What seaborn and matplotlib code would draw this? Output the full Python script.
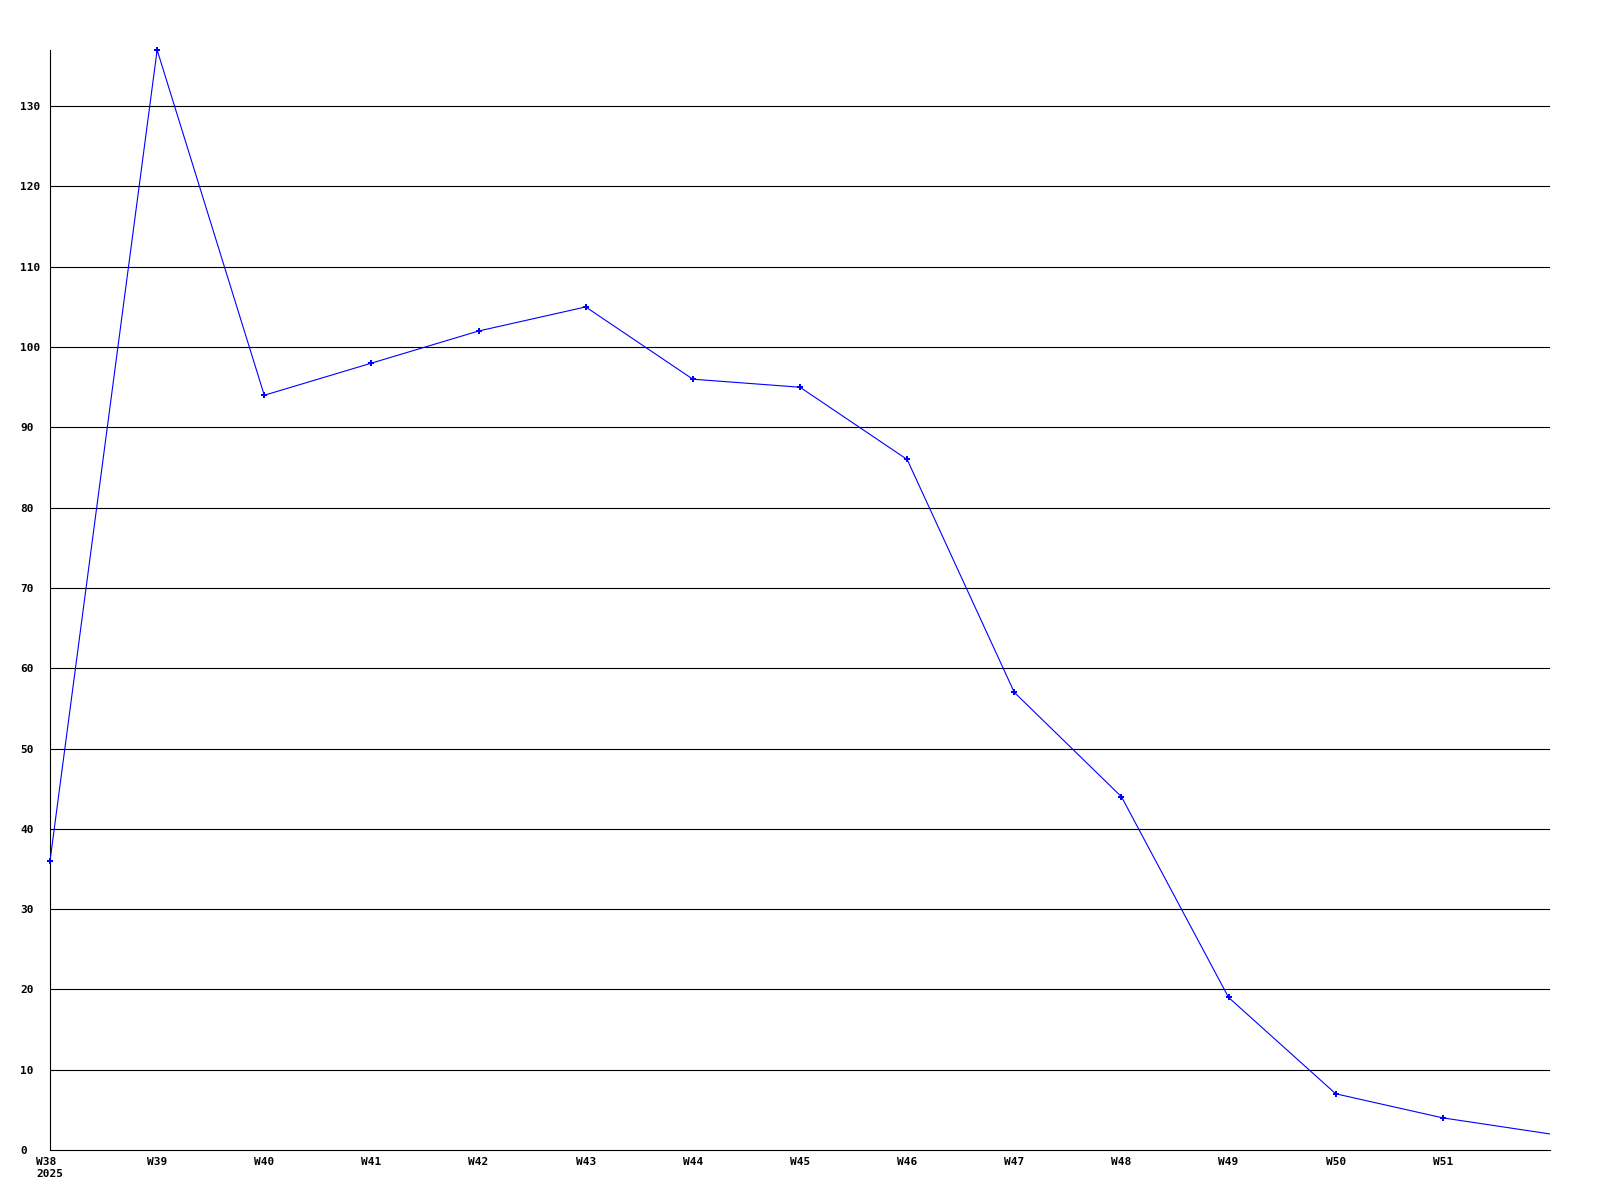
import pandas as pd
import matplotlib
matplotlib.use('Agg')
import matplotlib.pyplot as plt
import seaborn as sns

# Weekly values
weeks = ['W38', 'W39', 'W40', 'W41', 'W42', 'W43', 'W44', 'W45',
         'W46', 'W47', 'W48', 'W49', 'W50', 'W51', 'W52']
values = [36, 137, 94, 98, 102, 105, 96, 95, 86, 57, 44, 19, 7, 4, 2]
tick_labels = ['W38\n2025', 'W39', 'W40', 'W41', 'W42', 'W43', 'W44', 'W45',
               'W46', 'W47', 'W48', 'W49', 'W50', 'W51']
y_ticks = list(range(0, 131, 10))

df = pd.DataFrame({'idx': range(len(weeks)), 'week': weeks, 'value': values})

sns.set_style('white')
plt.rcParams['font.family'] = ['DejaVu Sans Mono', 'DejaVu Sans']
plt.rcParams['text.color'] = 'black'
plt.rcParams['xtick.color'] = 'black'
plt.rcParams['ytick.color'] = 'black'

fig = plt.figure(figsize=(16, 12), dpi=100)
ax = fig.add_axes([50 / 1600, 50 / 1200, 1500 / 1600, 1100 / 1200])

for y in y_ticks[1:]:
    ax.axhline(y, color='black', lw=0.8, zorder=1)

sns.lineplot(data=df, x='idx', y='value', ax=ax, color='#0000ff', lw=0.8, zorder=3)
# markers on every labelled week (the last point sits on the edge, unmarked)
ax.plot(df['idx'][:-1], df['value'][:-1], ls='none', marker='P', markersize=4,
        markeredgewidth=0, color='#0000ff', zorder=4, clip_on=False)

ax.set_xlim(0, 14)
ax.set_ylim(0, 137)
ax.set_xticks(range(len(tick_labels)))
ax.set_xticklabels(tick_labels, fontsize=8, fontweight='bold', multialignment='left',
                   linespacing=1.3)
ax.set_yticks(y_ticks)
ax.set_yticklabels([str(v) for v in y_ticks], fontsize=8, fontweight='bold')
for lab in ax.get_yticklabels():
    lab.set_horizontalalignment('left')
ax.tick_params(axis='y', length=0, pad=21.6)
ax.tick_params(axis='x', length=0, pad=5)
ax.set_xlabel('')
ax.set_ylabel('')

for side in ['top', 'right']:
    ax.spines[side].set_visible(False)
for side in ['left', 'bottom']:
    ax.spines[side].set_color('black')
    ax.spines[side].set_linewidth(0.8)

fig.savefig('out.png', dpi=100)
